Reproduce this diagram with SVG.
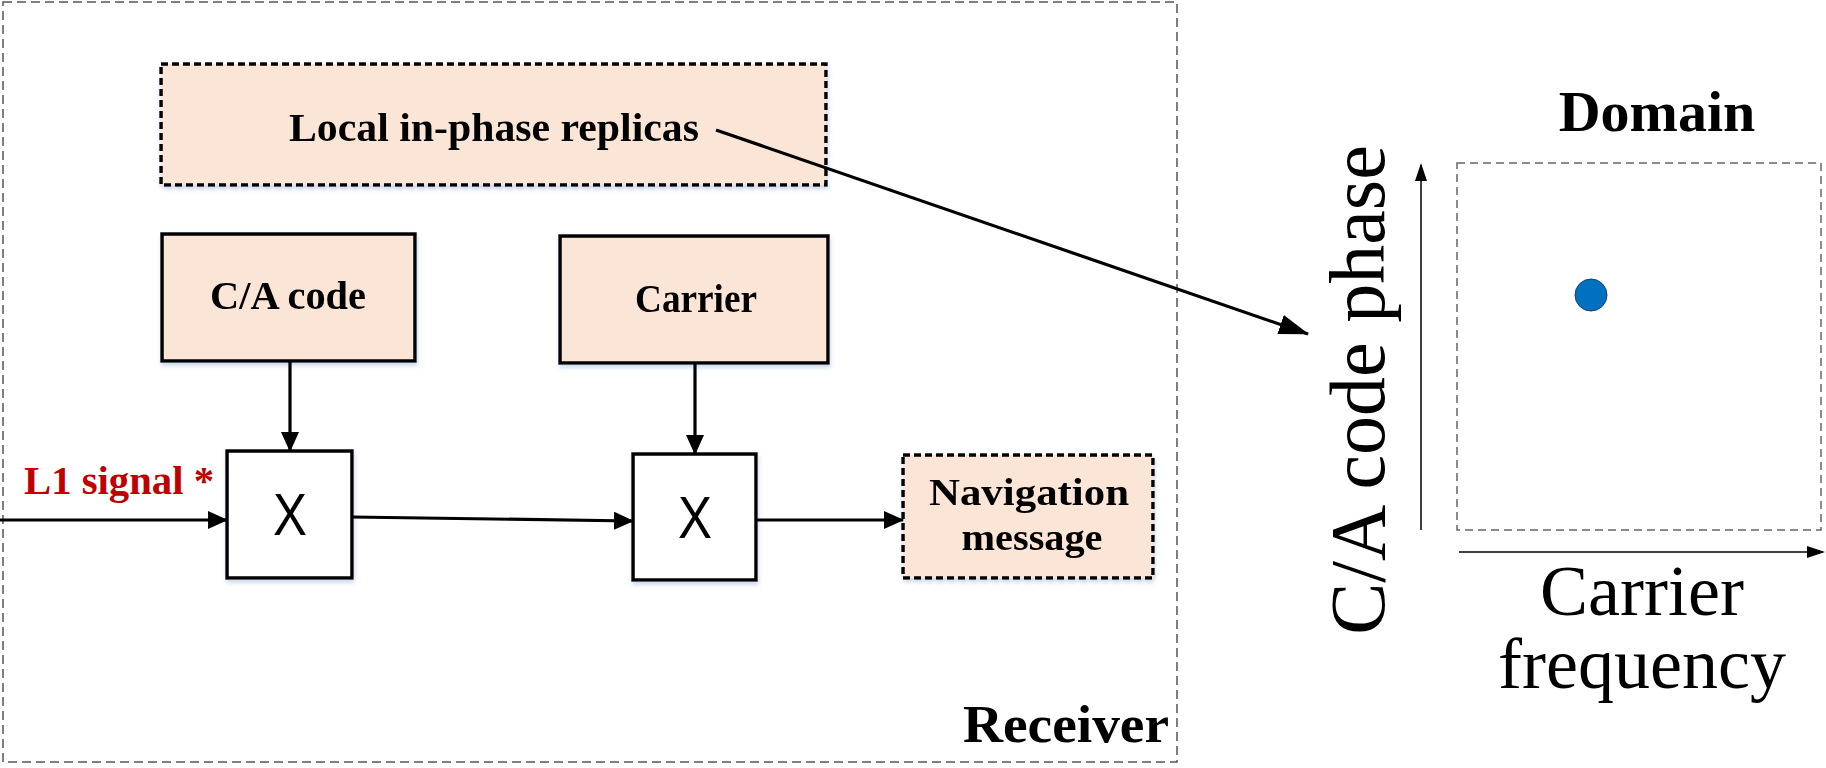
<svg xmlns="http://www.w3.org/2000/svg" width="1826" height="768" viewBox="0 0 1826 768">
  <style>
    .lbl { font-family: "Liberation Serif", "Times New Roman", serif; font-weight: bold; fill: #000; text-anchor: middle; }
    .axis-lbl { font-family: "Liberation Serif", "Times New Roman", serif; fill: #000; text-anchor: middle; }
    .mul { font-family: "Liberation Sans", Arial, sans-serif; font-size: 60px; fill: #000; text-anchor: middle; }
    .peach { fill: #FBE5D6; }
    .solid { stroke: #000; stroke-width: 3.5; }
    .dotted { stroke: #000; stroke-width: 3.5; stroke-dasharray: 7 4; }
    .frame { fill: none; stroke: #555; stroke-width: 1.5; stroke-dasharray: 9 5; }
    .wire { stroke: #000; stroke-width: 3.2; fill: none; }
    .axis { stroke: #000; stroke-width: 1.5; fill: none; }
  </style>
  <defs>
    <marker id="head" markerUnits="userSpaceOnUse" markerWidth="20" markerHeight="18" refX="19" refY="9" orient="auto">
      <path d="M0,0 L20,9 L0,18 Z" fill="#000"/>
    </marker>
    <marker id="headLong" markerUnits="userSpaceOnUse" markerWidth="30" markerHeight="20" refX="29" refY="10" orient="auto">
      <path d="M0,0 L30,10 L0,20 Z" fill="#000"/>
    </marker>
    <marker id="headSmall" markerUnits="userSpaceOnUse" markerWidth="18" markerHeight="12" refX="16" refY="6" orient="auto">
      <path d="M0,0 L18,6 L0,12 Z" fill="#000"/>
    </marker>
    <filter id="shadow" x="-5%" y="-5%" width="115%" height="120%">
      <feDropShadow dx="1" dy="3" stdDeviation="2" flood-color="#9fb4d8" flood-opacity="0.5"/>
    </filter>
  </defs>

  <rect width="1826" height="768" fill="#fff"/>

  <!-- receiver frame -->
  <g id="receiver">
    <rect class="frame" x="3" y="2" width="1174" height="760"/>
    <text class="lbl" x="1066" y="742" font-size="53" textLength="206" lengthAdjust="spacingAndGlyphs">Receiver</text>
  </g>

  <g id="replicas" filter="url(#shadow)">
    <rect class="peach dotted" x="161" y="64" width="665" height="121"/>
    <text class="lbl" x="494" y="141" font-size="40" textLength="410" lengthAdjust="spacingAndGlyphs">Local in-phase replicas</text>
  </g>

  <g id="ca-code" filter="url(#shadow)">
    <rect class="peach solid" x="162" y="234" width="253" height="127"/>
    <text class="lbl" x="288" y="309" font-size="39" textLength="156" lengthAdjust="spacingAndGlyphs">C/A code</text>
  </g>

  <g id="carrier" filter="url(#shadow)">
    <rect class="peach solid" x="560" y="236" width="268" height="127"/>
    <text class="lbl" x="696" y="312" font-size="40" textLength="122" lengthAdjust="spacingAndGlyphs">Carrier</text>
  </g>

  <g id="mixer1" filter="url(#shadow)">
    <rect fill="#fff" class="solid" x="227" y="451" width="125" height="127"/>
    <text class="mul" transform="translate(290,535) scale(0.85,1)">X</text>
  </g>

  <g id="mixer2" filter="url(#shadow)">
    <rect fill="#fff" class="solid" x="633" y="454" width="123" height="126"/>
    <text class="mul" transform="translate(695,538) scale(0.85,1)">X</text>
  </g>

  <g id="nav-msg" filter="url(#shadow)">
    <rect class="peach dotted" x="903" y="455" width="250" height="123"/>
    <text class="lbl" x="1029" y="505" font-size="38" textLength="200" lengthAdjust="spacingAndGlyphs">Navigation</text>
    <text class="lbl" x="1032" y="550" font-size="38" textLength="141" lengthAdjust="spacingAndGlyphs">message</text>
  </g>

  <g id="l1-signal">
    <text x="24" y="494" font-family="Liberation Serif, Times New Roman, serif" font-weight="bold" font-size="40" fill="#C00000" textLength="190" lengthAdjust="spacingAndGlyphs">L1 signal *</text>
  </g>

  <!-- search domain plot -->
  <g id="domain">
    <text class="lbl" x="1657" y="131" font-size="58">Domain</text>
    <rect fill="none" stroke="#666" stroke-width="1.5" stroke-dasharray="8 5" x="1457" y="163" width="364" height="367"/>
    <circle cx="1591" cy="295" r="16" fill="#0070C0" stroke="#1f3f6e" stroke-width="1"/>
    <text class="axis-lbl" font-size="78" transform="translate(1384,390) rotate(-90)">C/A code phase</text>
    <text class="axis-lbl" x="1642" y="615" font-size="72">Carrier</text>
    <text class="axis-lbl" x="1642" y="688" font-size="72">frequency</text>
  </g>

  <g id="connectors">
    <line class="wire" x1="0" y1="520" x2="227" y2="520" marker-end="url(#head)"/>
    <line class="wire" x1="352" y1="517" x2="633" y2="521" marker-end="url(#head)"/>
    <line class="wire" x1="756" y1="520" x2="903" y2="520" marker-end="url(#head)"/>
    <line class="wire" x1="290" y1="361" x2="290" y2="451" marker-end="url(#head)"/>
    <line class="wire" x1="695" y1="363" x2="695" y2="454" marker-end="url(#head)"/>
    <line class="wire" x1="716" y1="130" x2="1308" y2="334" marker-end="url(#headLong)"/>
    <line class="axis" x1="1421" y1="530" x2="1421" y2="165" marker-end="url(#headSmall)"/>
    <line class="axis" x1="1459" y1="552" x2="1823" y2="552" marker-end="url(#headSmall)"/>
  </g>
</svg>
